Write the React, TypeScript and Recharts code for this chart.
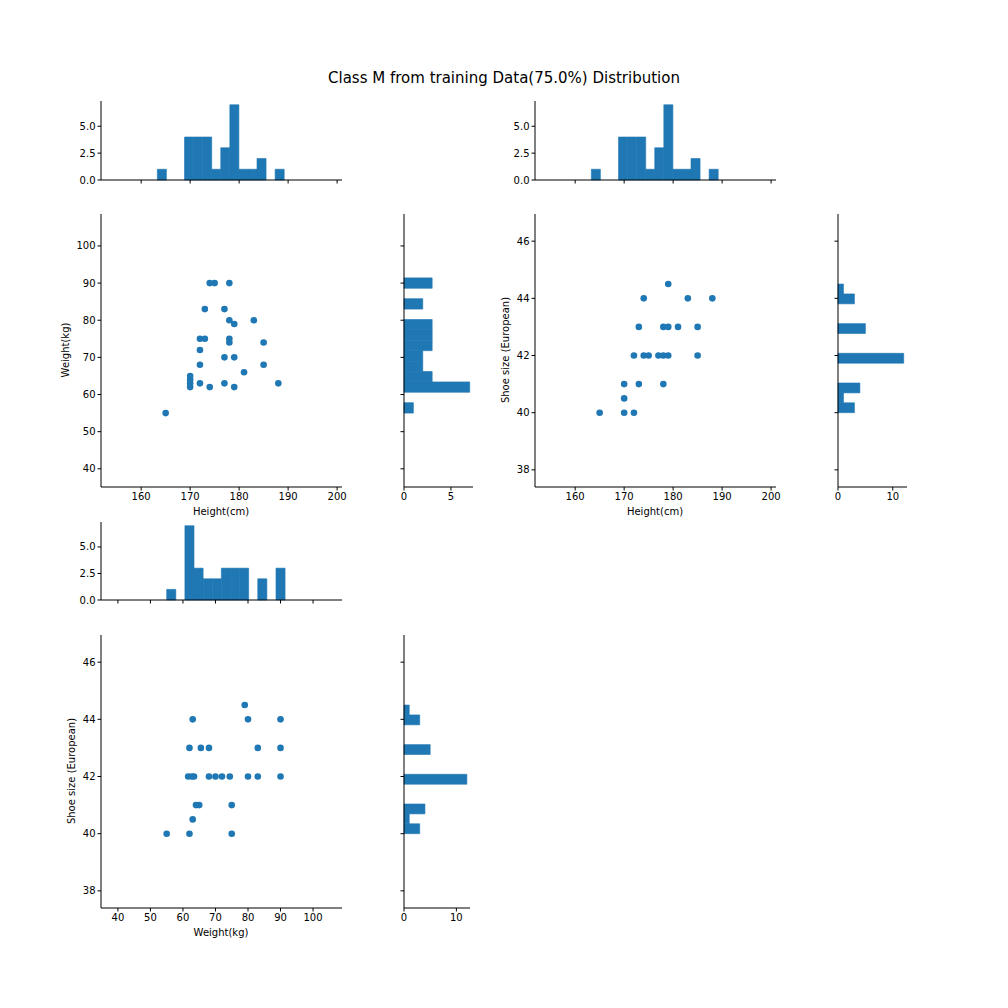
import React from 'react';
import { ComposedChart, XAxis, YAxis, Scatter, ReferenceArea } from 'recharts';

const C = '#1f77b4';
const FONT = 'DejaVu Sans, sans-serif';

// Height hist (bins start 163.3, width 1.85)
const heightBinStart = 163.3;
const heightBinWidth = 1.85;
const heightCounts = [1, 0, 0, 4, 4, 4, 1, 3, 7, 1, 1, 2, 0, 1];
// Weight hist (start 55, width 2.8)
const weightBinStart = 55;
const weightBinWidth = 2.8;
const weightCounts = [1, 0, 7, 3, 2, 2, 3, 3, 3, 0, 2, 0, 3];
// Shoe hist (start 40, width 4.5/13)
const shoeBinStart = 40;
const shoeBinWidth = 4.5 / 13;
const shoeCounts = [3, 1, 4, 0, 0, 12, 0, 0, 5, 0, 0, 3, 1];

const heightWeight = [
  [165, 55], [170, 62], [170, 63], [170, 64], [170, 65], [172, 63], [172, 68], [172, 72], [172, 75], [173, 75],
  [173, 83], [174, 62], [174, 90], [175, 90], [177, 63], [177, 70], [177, 83], [178, 74], [178, 75], [178, 80],
  [178, 90], [179, 62], [179, 70], [179, 79], [181, 66], [183, 80], [185, 68], [185, 74], [188, 63],
].map(([x, y]) => ({ x, y }));

const heightShoe = [
  [165, 40], [170, 40], [172, 40], [170, 40.5], [170, 41], [173, 41], [178, 41],
  [172, 42], [174, 42], [175, 42], [177, 42], [178, 42], [179, 42], [185, 42],
  [173, 43], [178, 43], [179, 43], [181, 43], [185, 43],
  [174, 44], [183, 44], [188, 44], [179, 44.5],
].map(([x, y]) => ({ x, y }));

const weightShoe = [
  [55, 40], [62, 40], [75, 40], [63, 40.5], [64, 41], [65, 41], [75, 41],
  [61.6, 42], [62.7, 42], [63.4, 42], [68, 42], [70, 42], [72, 42], [74.4, 42], [80, 42], [83, 42], [90, 42],
  [62, 43], [65.5, 43], [68, 43], [83, 43], [90, 43],
  [63, 44], [80, 44], [90, 44], [79, 44.5],
].map(([x, y]) => ({ x, y }));

const heightTicks = [160, 170, 180, 190, 200];
const weightTicks = [40, 50, 60, 70, 80, 90, 100];
const shoeTicks = [38, 40, 42, 44, 46];
const countTicks = [0, 2.5, 5];

const YW = 40, XH = 22, RM = 14;

function bins(start: number, width: number, counts: number[], horizontal: boolean) {
  return counts.map((c, i) => {
    if (c === 0) return null;
    const a = start + i * width, b = start + (i + 1) * width;
    return horizontal ? (
      <ReferenceArea key={i} x1={0} x2={c} y1={a} y2={b} fill={C} fillOpacity={1} stroke={C} strokeWidth={0.6} ifOverflow="visible" />
    ) : (
      <ReferenceArea key={i} x1={a} x2={b} y1={0} y2={c} fill={C} fillOpacity={1} stroke={C} strokeWidth={0.6} ifOverflow="visible" />
    );
  });
}

const dot = (p: any) => <circle cx={p.cx} cy={p.cy} r={3.3} fill={C} />;
const blank = () => '';

function Panel(props: any) {
  const { left, top, w, h, xDomain, yDomain, xTicks, yTicks, xLabels, yLabels, yFmt, points, children } = props;
  const tickStyle = { fontSize: 10, fill: '#000', fontFamily: FONT };
  return (
    <div style={{ position: 'absolute', left: left - YW, top }}>
      <ComposedChart width={YW + w + RM} height={h + XH + 1} margin={{ top: 0, right: RM, bottom: 0, left: 0 }}>
        <XAxis type="number" dataKey="x" domain={xDomain} ticks={xTicks} allowDataOverflow height={XH}
          tick={tickStyle} tickFormatter={xLabels ? undefined : blank} tickSize={3.5} stroke="#000" interval={0} />
        <YAxis type="number" dataKey="y" domain={yDomain} ticks={yTicks} allowDataOverflow width={YW}
          tick={tickStyle} tickFormatter={yLabels ? yFmt : blank} tickSize={3.5} stroke="#000" interval={0} />
        {children}
        <Scatter data={points || []} isAnimationActive={false} shape={dot} />
        <ReferenceArea fill="none" fillOpacity={0} stroke="#000" strokeWidth={1} ifOverflow="visible" />
      </ComposedChart>
    </div>
  );
}

const fmt1 = (v: number) => v.toFixed(1);
const hD = [151.8, 201];
const wD = [34.8, 108.9];
const wDy = [35.1, 108.6];
const sD = [37.4, 46.95];
const cD = [0, 7.35];

export default function App() {
  return (
    <div style={{ position: 'absolute', left: 0, top: 0, width: 1008, height: 1008, background: '#fff', fontFamily: FONT }}>
      <Panel left={101} top={101} w={241} h={78} xDomain={hD} yDomain={cD} xTicks={heightTicks} yTicks={countTicks} xLabels={false} yLabels yFmt={fmt1}>
        {bins(heightBinStart, heightBinWidth, heightCounts, false)}
      </Panel>
      <Panel left={101} top={214} w={241} h={272} xDomain={hD} yDomain={wDy} xTicks={heightTicks} yTicks={weightTicks} xLabels yLabels points={heightWeight} />
      <Panel left={404} top={214} w={69} h={272} xDomain={cD} yDomain={wDy} xTicks={[0, 5]} yTicks={weightTicks} xLabels yLabels={false}>
        {bins(weightBinStart, weightBinWidth, weightCounts, true)}
      </Panel>
      <Panel left={535} top={101} w={241} h={78} xDomain={hD} yDomain={cD} xTicks={heightTicks} yTicks={countTicks} xLabels={false} yLabels yFmt={fmt1}>
        {bins(heightBinStart, heightBinWidth, heightCounts, false)}
      </Panel>
      <Panel left={535} top={214} w={241} h={272} xDomain={hD} yDomain={sD} xTicks={heightTicks} yTicks={shoeTicks} xLabels yLabels points={heightShoe} />
      <Panel left={838} top={214} w={69} h={272} xDomain={[0, 12.6]} yDomain={sD} xTicks={[0, 10]} yTicks={shoeTicks} xLabels yLabels={false}>
        {bins(shoeBinStart, shoeBinWidth, shoeCounts, true)}
      </Panel>
      <Panel left={101} top={522} w={241} h={77} xDomain={wD} yDomain={cD} xTicks={weightTicks} yTicks={countTicks} xLabels={false} yLabels yFmt={fmt1}>
        {bins(weightBinStart, weightBinWidth, weightCounts, false)}
      </Panel>
      <Panel left={101} top={635} w={241} h={272} xDomain={wD} yDomain={sD} xTicks={weightTicks} yTicks={shoeTicks} xLabels yLabels points={weightShoe} />
      <Panel left={404} top={635} w={66} h={272} xDomain={[0, 12.6]} yDomain={sD} xTicks={[0, 10]} yTicks={shoeTicks} xLabels yLabels={false}>
        {bins(shoeBinStart, shoeBinWidth, shoeCounts, true)}
      </Panel>
      <svg width={1008} height={1008} style={{ position: 'absolute', left: 0, top: 0, pointerEvents: 'none' }} fontFamily={FONT}>
        <text x={504} y={83} textAnchor="middle" fontSize={15}>Class M from training Data(75.0%) Distribution</text>
        <text x={221} y={515} textAnchor="middle" fontSize={10}>Height(cm)</text>
        <text x={655} y={515} textAnchor="middle" fontSize={10}>Height(cm)</text>
        <text x={221} y={936} textAnchor="middle" fontSize={10}>Weight(kg)</text>
        <text transform="translate(69,350) rotate(-90)" textAnchor="middle" fontSize={10}>Weight(kg)</text>
        <text transform="translate(509,350) rotate(-90)" textAnchor="middle" fontSize={10}>Shoe size (European)</text>
        <text transform="translate(75,771) rotate(-90)" textAnchor="middle" fontSize={10}>Shoe size (European)</text>
      </svg>
    </div>
  );
}
